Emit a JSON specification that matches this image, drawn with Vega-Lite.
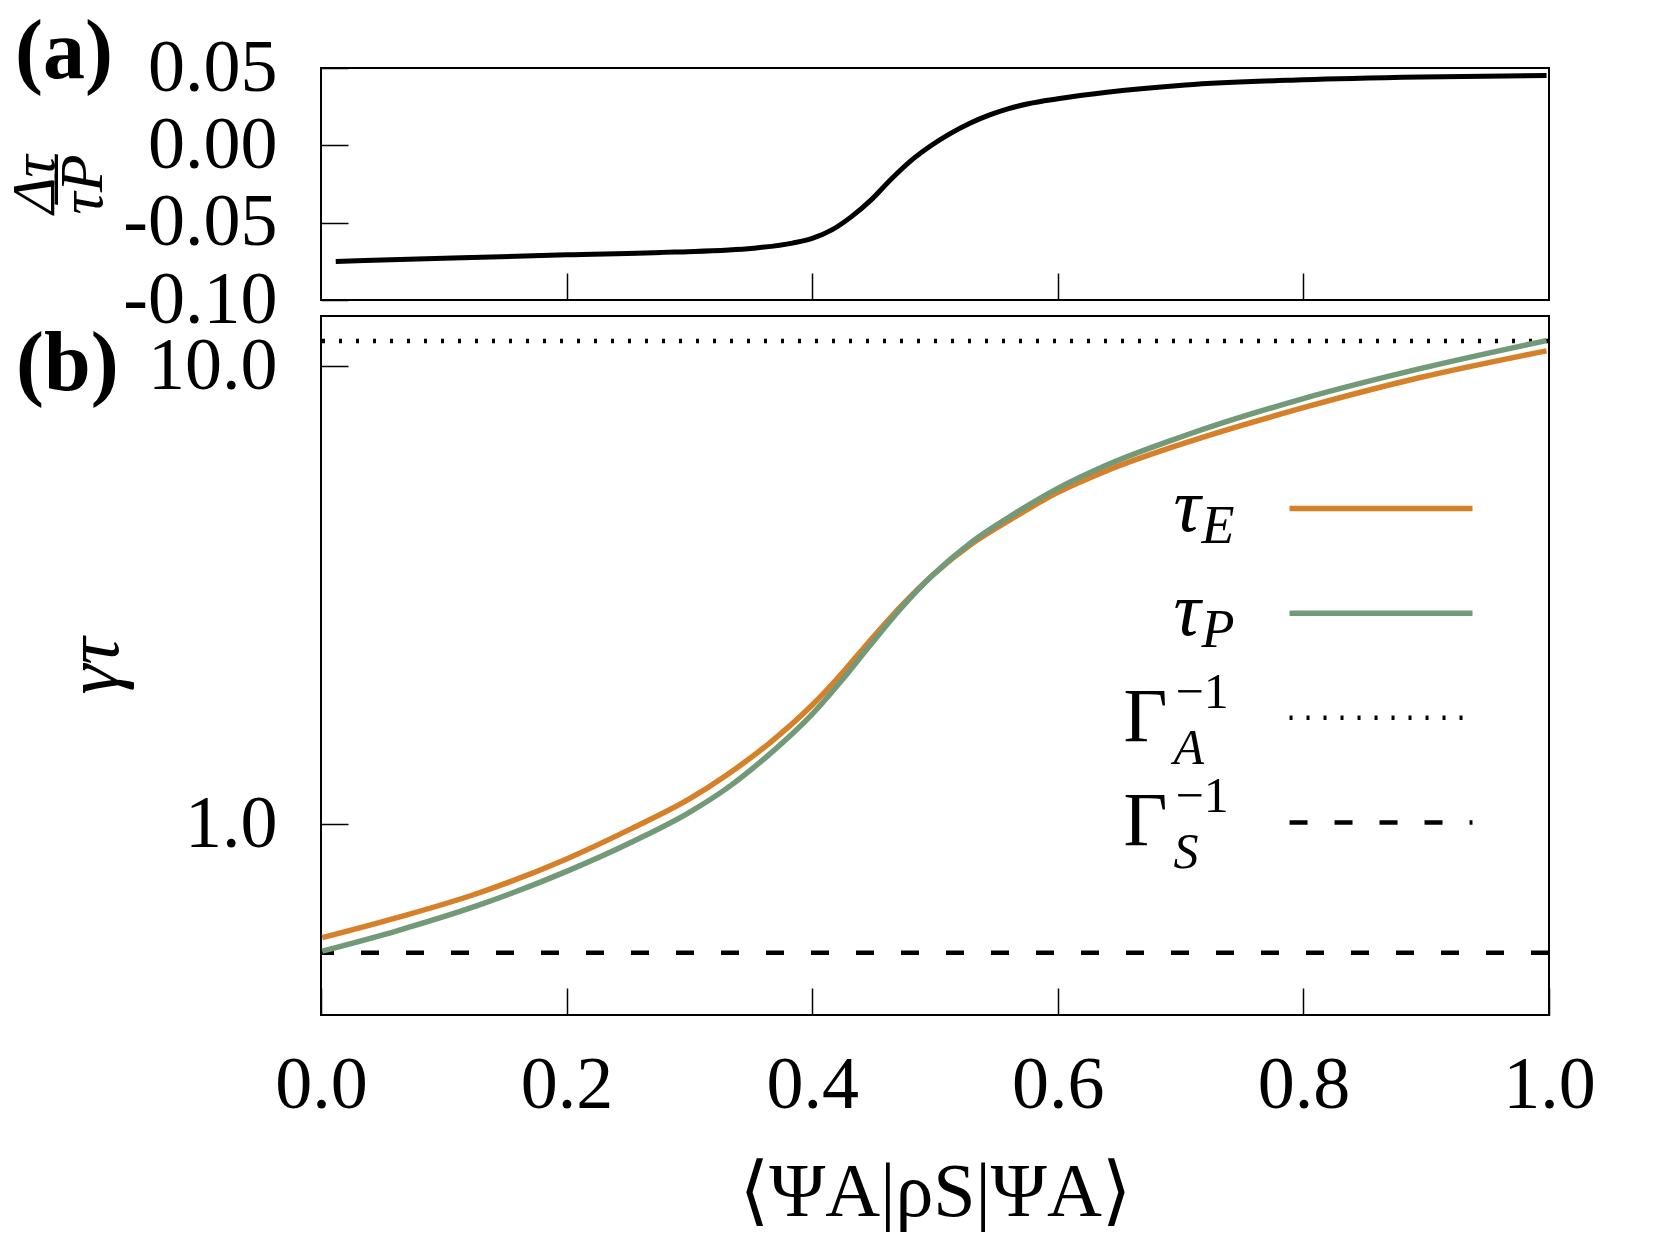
{
  "$schema": "https://vega.github.io/schema/vega-lite/v6.json",
  "background": "white",
  "padding": {"left": 2, "top": 10, "right": 5, "bottom": 5},
  "spacing": 16,
  "bounds": "flush",
  "config": {
    "view": {"stroke": "#000000", "strokeWidth": 2},
    "axis": {
      "labelFont": "Liberation Serif",
      "labelFontSize": 74,
      "labelColor": "#000000",
      "titleFont": "Liberation Serif, DejaVu Serif",
      "titleColor": "#000000",
      "titleFontWeight": "normal",
      "tickColor": "#000000",
      "tickWidth": 1.5,
      "tickSize": -27,
      "domain": false,
      "grid": false,
      "labelFlush": false,
      "labelOverlap": false,
      "labelBound": false
    }
  },
  "datasets": {
    "ratio": [
      {"x": 0.012, "ratio": -0.0751},
      {"x": 0.1, "ratio": -0.073},
      {"x": 0.2, "ratio": -0.0708},
      {"x": 0.288, "ratio": -0.069},
      {"x": 0.352, "ratio": -0.0665},
      {"x": 0.384, "ratio": -0.0632},
      {"x": 0.4, "ratio": -0.0602},
      {"x": 0.416, "ratio": -0.0547},
      {"x": 0.432, "ratio": -0.0461},
      {"x": 0.448, "ratio": -0.0353},
      {"x": 0.464, "ratio": -0.0221},
      {"x": 0.48, "ratio": -0.0102},
      {"x": 0.496, "ratio": -0.0006},
      {"x": 0.512, "ratio": 0.0074},
      {"x": 0.528, "ratio": 0.0141},
      {"x": 0.544, "ratio": 0.0195},
      {"x": 0.56, "ratio": 0.0237},
      {"x": 0.576, "ratio": 0.0269},
      {"x": 0.6, "ratio": 0.0301},
      {"x": 0.64, "ratio": 0.0343},
      {"x": 0.704, "ratio": 0.039},
      {"x": 0.8, "ratio": 0.0424},
      {"x": 0.896, "ratio": 0.0442},
      {"x": 0.998, "ratio": 0.0452}
    ],
    "curves": [
      {"x": 0.001, "series": "τ_E", "value": 0.566},
      {"x": 0.062, "series": "τ_E", "value": 0.626},
      {"x": 0.126, "series": "τ_E", "value": 0.705},
      {"x": 0.2, "series": "τ_E", "value": 0.841},
      {"x": 0.254, "series": "τ_E", "value": 0.983},
      {"x": 0.3, "series": "τ_E", "value": 1.137},
      {"x": 0.331, "series": "τ_E", "value": 1.286},
      {"x": 0.363, "series": "τ_E", "value": 1.489},
      {"x": 0.4, "series": "τ_E", "value": 1.823},
      {"x": 0.427, "series": "τ_E", "value": 2.18},
      {"x": 0.446, "series": "τ_E", "value": 2.5},
      {"x": 0.472, "series": "τ_E", "value": 2.99},
      {"x": 0.498, "series": "τ_E", "value": 3.5},
      {"x": 0.53, "series": "τ_E", "value": 4.1},
      {"x": 0.562, "series": "τ_E", "value": 4.64},
      {"x": 0.6, "series": "τ_E", "value": 5.31},
      {"x": 0.639, "series": "τ_E", "value": 5.91},
      {"x": 0.703, "series": "τ_E", "value": 6.8},
      {"x": 0.8, "series": "τ_E", "value": 8.13},
      {"x": 0.895, "series": "τ_E", "value": 9.46},
      {"x": 0.998, "series": "τ_E", "value": 10.82},
      {"x": 0.001, "series": "τ_P", "value": 0.529},
      {"x": 0.062, "series": "τ_P", "value": 0.586},
      {"x": 0.126, "series": "τ_P", "value": 0.663},
      {"x": 0.2, "series": "τ_P", "value": 0.79},
      {"x": 0.254, "series": "τ_P", "value": 0.918},
      {"x": 0.3, "series": "τ_P", "value": 1.063},
      {"x": 0.331, "series": "τ_P", "value": 1.202},
      {"x": 0.363, "series": "τ_P", "value": 1.407},
      {"x": 0.4, "series": "τ_P", "value": 1.742},
      {"x": 0.427, "series": "τ_P", "value": 2.11},
      {"x": 0.446, "series": "τ_P", "value": 2.44},
      {"x": 0.472, "series": "τ_P", "value": 2.96},
      {"x": 0.498, "series": "τ_P", "value": 3.5},
      {"x": 0.53, "series": "τ_P", "value": 4.14},
      {"x": 0.562, "series": "τ_P", "value": 4.72},
      {"x": 0.6, "series": "τ_P", "value": 5.42},
      {"x": 0.639, "series": "τ_P", "value": 6.08},
      {"x": 0.703, "series": "τ_P", "value": 7.06},
      {"x": 0.8, "series": "τ_P", "value": 8.51},
      {"x": 0.895, "series": "τ_P", "value": 9.89},
      {"x": 0.998, "series": "τ_P", "value": 11.39}
    ],
    "levels": [
      {"series": "Γ_A⁻¹", "value": 11.37},
      {"series": "Γ_S⁻¹", "value": 0.525}
    ],
    "legend": [
      {"series": "τ_E", "main": "τ", "sub": "E", "sup": ""},
      {"series": "τ_P", "main": "τ", "sub": "P", "sup": ""},
      {"series": "Γ_A⁻¹", "main": "Γ", "sub": "A", "sup": "−1"},
      {"series": "Γ_S⁻¹", "main": "Γ", "sub": "S", "sup": "−1"}
    ]
  },
  "vconcat": [
    {
      "width": 1228,
      "height": 232,
      "title": {"text": "(a)", "anchor": "start", "frame": "group", "font": "Liberation Serif", "fontWeight": "bold", "fontSize": 84, "baseline": "alphabetic", "color": "#000000", "offset": -79, "dx": -306, "dy": 52},
      "layer": [
        {
          "mark": {"type": "rule", "strokeDash": [17, 27], "strokeWidth": 1.5, "color": "#222222"},
          "encoding": {"y": {"datum": 0, "type": "quantitative", "scale": {"domain": [-0.1, 0.05], "nice": false, "zero": false}}}
        },
        {
          "data": {"name": "ratio"},
          "mark": {"type": "line", "color": "#000000", "strokeWidth": 5, "interpolate": "monotone"},
          "encoding": {
            "x": {"field": "x", "type": "quantitative", "scale": {"domain": [0, 1], "nice": false, "zero": false},
                  "axis": {"values": [0.2, 0.4, 0.6, 0.8], "labels": false, "title": null}},
            "y": {"field": "ratio", "type": "quantitative", "scale": {"domain": [-0.1, 0.05], "nice": false, "zero": false},
                  "axis": {"values": [-0.1, -0.05, 0, 0.05], "format": ".2f", "labelExpr": "replace(datum.label, '−', '-')",
                           "labelPadding": 71, "title": ["Δτ", "τ̅P̅"], "titleFontSize": 62, "titleLineHeight": 48,
                           "titleFontStyle": "italic", "titlePadding": 8}}
          }
        }
      ]
    },
    {
      "width": 1228,
      "height": 699,
      "title": {"text": "(b)", "anchor": "start", "frame": "group", "font": "Liberation Serif", "fontWeight": "bold", "fontSize": 84, "baseline": "alphabetic", "color": "#000000", "offset": -81, "dx": -305, "dy": 77},
      "resolve": {"scale": {"y": "independent"}},
      "layer": [
        {
          "layer": [
            {
              "data": {"name": "levels"},
              "mark": {"type": "rule", "strokeWidth": 4.5},
              "encoding": {
                "y": {"field": "value", "type": "quantitative", "scale": {"type": "log", "domain": [0.3837, 12.89], "nice": false, "zero": false},
                      "axis": {"values": [1, 10], "format": ".1f", "labelPadding": 71, "title": "γτ", "titleFontStyle": "italic", "titleFontSize": 76, "titlePadding": 14}},
                "color": {"field": "series", "type": "nominal", "legend": null,
                          "scale": {"domain": ["τ_E", "τ_P", "Γ_A⁻¹", "Γ_S⁻¹"], "range": ["#d7802a", "#739a78", "#000000", "#000000"]}},
                "strokeDash": {"field": "series", "type": "nominal", "legend": null,
                               "scale": {"domain": ["τ_E", "τ_P", "Γ_A⁻¹", "Γ_S⁻¹"], "range": [[1, 0], [1, 0], [3, 14], [18, 27]]}}
              }
            },
            {
              "data": {"name": "curves"},
              "mark": {"type": "line", "strokeWidth": 5.5, "interpolate": "monotone"},
              "encoding": {
                "x": {"field": "x", "type": "quantitative", "scale": {"domain": [0, 1], "nice": false, "zero": false},
                      "axis": {"values": [0, 0.2, 0.4, 0.6, 0.8, 1], "format": ".1f", "labelPadding": 61,
                               "title": "⟨ΨA|ρS|ΨA⟩", "titleFontSize": 76, "titlePadding": 33}},
                "y": {"field": "value", "type": "quantitative", "scale": {"type": "log", "domain": [0.3837, 12.89], "nice": false, "zero": false}},
                "color": {"field": "series", "type": "nominal", "legend": null}
              }
            }
          ]
        },
        {
          "data": {"name": "legend"},
          "transform": [{"filter": "datum.sup == ''"}],
          "mark": {"type": "rule", "strokeWidth": 5.5},
          "encoding": {
            "x": {"datum": 0.7887, "type": "quantitative"},
            "x2": {"datum": 0.9377},
            "y": {"field": "series", "type": "nominal", "scale": {"type": "point", "domain": ["above", "τ_E", "τ_P", "Γ_A⁻¹", "Γ_S⁻¹", "below"], "padding": 0.84}, "axis": null},
            "color": {"field": "series", "type": "nominal", "legend": null}
          }
        },
        {
          "data": {"name": "legend"},
          "transform": [{"filter": "datum.sup != ''"}],
          "mark": {"type": "rule", "strokeWidth": 4.5},
          "encoding": {
            "x": {"datum": 0.7887, "type": "quantitative"},
            "x2": {"datum": 0.9377},
            "y": {"field": "series", "type": "nominal", "scale": {"type": "point", "domain": ["above", "τ_E", "τ_P", "Γ_A⁻¹", "Γ_S⁻¹", "below"], "padding": 0.84}, "axis": null},
            "color": {"field": "series", "type": "nominal", "legend": null},
            "strokeDash": {"field": "series", "type": "nominal", "legend": null}
          }
        },
        {
          "data": {"name": "legend"},
          "transform": [{"filter": "datum.sup == ''"}],
          "mark": {"type": "text", "align": "right", "baseline": "alphabetic", "dy": 22, "font": "Liberation Serif", "fontStyle": "italic", "fontSize": 76, "color": "#000000"},
          "encoding": {
            "x": {"datum": 0.7163, "type": "quantitative"},
            "y": {"field": "series", "type": "nominal", "scale": {"type": "point", "domain": ["above", "τ_E", "τ_P", "Γ_A⁻¹", "Γ_S⁻¹", "below"], "padding": 0.84}, "axis": null},
            "text": {"field": "main"}
          }
        },
        {
          "data": {"name": "legend"},
          "transform": [{"filter": "datum.sup == ''"}],
          "mark": {"type": "text", "align": "left", "baseline": "alphabetic", "dx": 1, "dy": 34, "font": "Liberation Serif", "fontStyle": "italic", "fontSize": 54, "color": "#000000"},
          "encoding": {
            "x": {"datum": 0.7163, "type": "quantitative"},
            "y": {"field": "series", "type": "nominal", "scale": {"type": "point", "domain": ["above", "τ_E", "τ_P", "Γ_A⁻¹", "Γ_S⁻¹", "below"], "padding": 0.84}, "axis": null},
            "text": {"field": "sub"}
          }
        },
        {
          "data": {"name": "legend"},
          "transform": [{"filter": "datum.sup != ''"}],
          "mark": {"type": "text", "align": "right", "baseline": "alphabetic", "dy": 23, "font": "Liberation Serif", "fontSize": 76, "color": "#000000"},
          "encoding": {
            "x": {"datum": 0.6893, "type": "quantitative"},
            "y": {"field": "series", "type": "nominal", "scale": {"type": "point", "domain": ["above", "τ_E", "τ_P", "Γ_A⁻¹", "Γ_S⁻¹", "below"], "padding": 0.84}, "axis": null},
            "text": {"field": "main"}
          }
        },
        {
          "data": {"name": "legend"},
          "transform": [{"filter": "datum.sup != ''"}],
          "mark": {"type": "text", "align": "left", "baseline": "alphabetic", "dx": 6, "dy": 46, "font": "Liberation Serif", "fontStyle": "italic", "fontSize": 50, "color": "#000000"},
          "encoding": {
            "x": {"datum": 0.6893, "type": "quantitative"},
            "y": {"field": "series", "type": "nominal", "scale": {"type": "point", "domain": ["above", "τ_E", "τ_P", "Γ_A⁻¹", "Γ_S⁻¹", "below"], "padding": 0.84}, "axis": null},
            "text": {"field": "sub"}
          }
        },
        {
          "data": {"name": "legend"},
          "transform": [{"filter": "datum.sup != ''"}],
          "mark": {"type": "text", "align": "left", "baseline": "alphabetic", "dx": 8, "dy": -10, "font": "Liberation Serif", "fontSize": 50, "color": "#000000"},
          "encoding": {
            "x": {"datum": 0.6893, "type": "quantitative"},
            "y": {"field": "series", "type": "nominal", "scale": {"type": "point", "domain": ["above", "τ_E", "τ_P", "Γ_A⁻¹", "Γ_S⁻¹", "below"], "padding": 0.84}, "axis": null},
            "text": {"field": "sup"}
          }
        }
      ]
    }
  ]
}
